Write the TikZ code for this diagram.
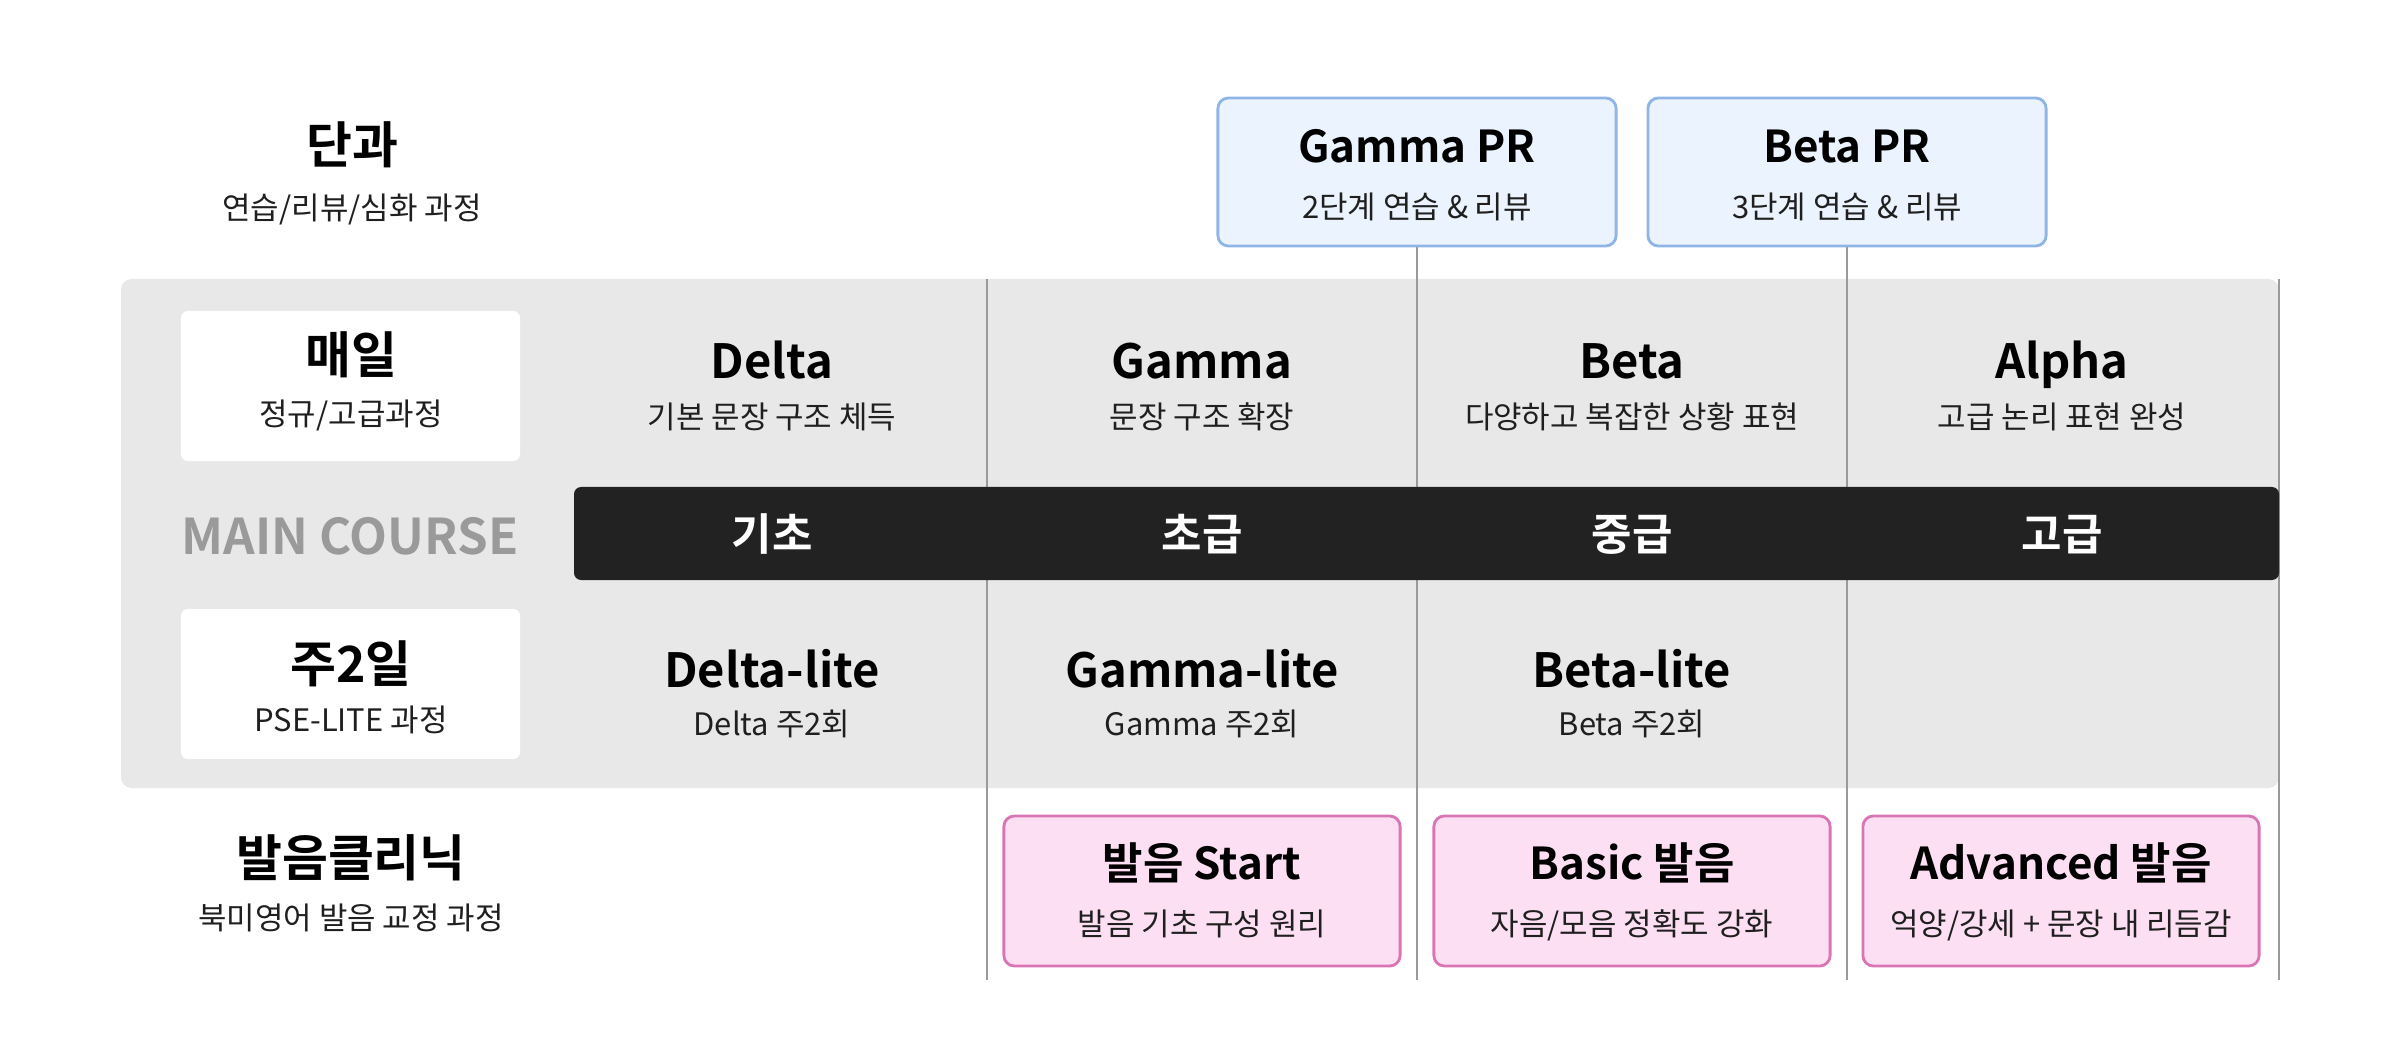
\documentclass[tikz,border=0pt]{standalone}
\usepackage{fontspec}
\setmainfont{Noto Sans CJK KR}[BoldFont={Noto Sans CJK KR Bold}]
\usepackage{xcolor}
\usepackage{tikz}
\usetikzlibrary{positioning}

\definecolor{panelgray}{HTML}{E8E8E8}
\definecolor{bardark}{HTML}{222222}
\definecolor{linegray}{HTML}{9A9A9A}
\definecolor{coursegray}{HTML}{9A9A9A}
\definecolor{prfill}{HTML}{EBF3FE}
\definecolor{prline}{HTML}{8FB5E6}
\definecolor{pinkfill}{HTML}{FDDFF3}
\definecolor{pinkline}{HTML}{D975B5}

\tikzset{
  txt/.style={inner sep=0pt, text height=0.72em, text depth=0pt},
  head/.style={txt, font=\bfseries\fontsize{14.2}{16}\selectfont},
  coltitle/.style={txt, font=\bfseries\fontsize{13.4}{16}\selectfont},
  boxtitle/.style={txt, font=\bfseries\fontsize{12.5}{15}\selectfont},
  sub/.style={txt, font=\fontsize{8.8}{11}\selectfont, text=black!88},
  level/.style={txt, text=white, font=\bfseries\fontsize{12.5}{15}\selectfont},
  labelbox/.style={fill=white, rounded corners=2pt, minimum width=3.39cm, minimum height=1.5cm},
  prbox/.style={draw=prline, fill=prfill, line width=0.8pt, rounded corners=3pt,
    minimum width=3.98cm, minimum height=1.48cm},
  pinkbox/.style={draw=pinkline, fill=pinkfill, line width=0.8pt, rounded corners=3pt,
    minimum width=3.96cm, minimum height=1.5cm},
  sep/.style={draw=linegray, line width=0.6pt}
}

\begin{document}
\begin{tikzpicture}[x=0.01cm, y=-0.01cm]
  \useasboundingbox (0,0) rectangle (2400,1058);

  \coordinate (c1) at (772, 0);
  \coordinate (c2) at (1202, 0);
  \coordinate (c3) at (1632, 0);
  \coordinate (c4) at (2062, 0);

  % panel and dividers
  \fill[panelgray, rounded corners=3pt] (121,279) rectangle (2279,788);

  \node[prbox] (gpr-box) at (1417,172) {};
  \node[prbox] (bpr-box) at (1847,172) {};

  \coordinate (cut1-top) at (987,279);
  \coordinate (cut4-top) at (2279,279);
  \coordinate (cut1-bot) at (987,980);
  \coordinate (cut2-bot) at (1417,980);
  \coordinate (cut3-bot) at (1847,980);
  \coordinate (cut4-bot) at (2279,980);

  \draw[sep] (cut1-top) -- (cut1-bot);
  \draw[sep] (gpr-box.south) -- (cut2-bot);
  \draw[sep] (bpr-box.south) -- (cut3-bot);
  \draw[sep] (cut4-top) -- (cut4-bot);

  \fill[bardark, rounded corners=2pt] (574,487) rectangle (2279,580);

  % left labels
  \node[head] (single) at (352,151) {단과};
  \node[sub] (single-sub) at (352,207) {연습/리뷰/심화 과정};

  \node[labelbox] (daily-box) at (350.5,386) {};
  \node[head] (daily) at (351,361) {매일};
  \node[sub] (daily-sub) at (351,413) {정규/고급과정};

  \node[txt, text=coursegray, font=\bfseries\fontsize{14}{16}\selectfont] (main) at (350,542) {MAIN COURSE};

  \node[labelbox] (lite-box) at (350.5,684) {};
  \node[head] (lite) at (351,670) {주2일};
  \node[sub] (lite-sub) at (351,719) {PSE-LITE 과정};

  \node[head] (clinic) at (351,864) {발음클리닉};
  \node[sub] (clinic-sub) at (351,917) {북미영어 발음 교정 과정};

  % PR courses
  \node[boxtitle] (gpr) at (1417,150) {Gamma PR};
  \node[sub] (gpr-sub) at (1417,206) {2단계 연습 \& 리뷰};
  \node[boxtitle] (bpr) at (1847,150) {Beta PR};
  \node[sub] (bpr-sub) at (1847,206) {3단계 연습 \& 리뷰};

  % daily row
  \node[coltitle] (delta) at (c1 |- 0,366) {Delta};
  \node[sub] (delta-sub) at (c1 |- 0,416) {기본 문장 구조 체득};
  \node[coltitle] (gamma) at (c2 |- 0,366) {Gamma};
  \node[sub] (gamma-sub) at (c2 |- 0,416) {문장 구조 확장};
  \node[coltitle] (beta) at (c3 |- 0,366) {Beta};
  \node[sub] (beta-sub) at (c3 |- 0,416) {다양하고 복잡한 상황 표현};
  \node[coltitle] (alpha) at (c4 |- 0,366) {Alpha};
  \node[sub] (alpha-sub) at (c4 |- 0,416) {고급 논리 표현 완성};

  % levels
  \node[level] (lv1) at (c1 |- 0,538) {기초};
  \node[level] (lv2) at (c2 |- 0,538) {초급};
  \node[level] (lv3) at (c3 |- 0,538) {중급};
  \node[level] (lv4) at (c4 |- 0,538) {고급};

  % lite row
  \node[coltitle] (delta-lite) at (c1 |- 0,675) {Delta-lite};
  \node[sub] (delta-lite-sub) at (c1 |- 0,723) {Delta 주2회};
  \node[coltitle] (gamma-lite) at (c2 |- 0,675) {Gamma-lite};
  \node[sub] (gamma-lite-sub) at (c2 |- 0,723) {Gamma 주2회};
  \node[coltitle] (beta-lite) at (c3 |- 0,675) {Beta-lite};
  \node[sub] (beta-lite-sub) at (c3 |- 0,723) {Beta 주2회};

  % pronunciation clinic
  \node[pinkbox] (start-box) at (1202,891) {};
  \node[boxtitle] (start) at (1202,867) {발음 Start};
  \node[sub] (start-sub) at (1202,923) {발음 기초 구성 원리};
  \node[pinkbox] (basic-box) at (1632,891) {};
  \node[boxtitle] (basic) at (1632,867) {Basic 발음};
  \node[sub] (basic-sub) at (1632,923) {자음/모음 정확도 강화};
  \node[pinkbox] (adv-box) at (2061,891) {};
  \node[boxtitle] (adv) at (2061,867) {Advanced 발음};
  \node[sub] (adv-sub) at (2061,923) {억양/강세 + 문장 내 리듬감};
\end{tikzpicture}
\end{document}
